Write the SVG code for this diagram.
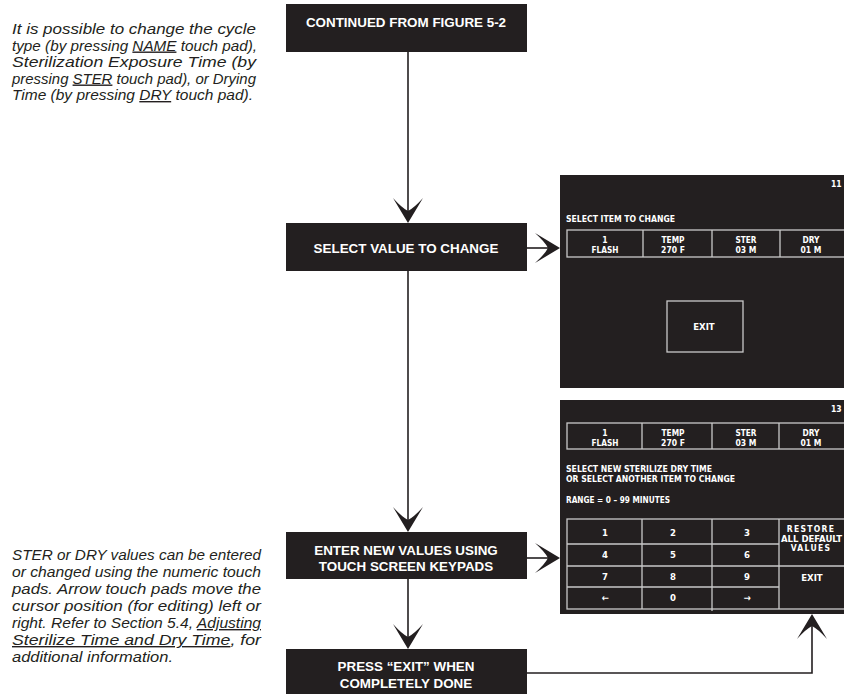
<svg xmlns="http://www.w3.org/2000/svg" width="844" height="694" viewBox="0 0 844 694">
<style>
  .box { fill:#231f20; }
  .bt { font-family:"Liberation Sans", Arial, sans-serif; font-weight:bold; font-size:13.4px; fill:#ffffff; text-anchor:middle; }
  .note { font-family:"Liberation Sans", Arial, sans-serif; font-style:italic; font-size:14px; fill:#231f20; }
  .u { text-decoration:underline; }
  .scr { fill:#231f20; }
  .grid { fill:none; stroke:#c9c9c9; stroke-width:1.3; }
  .st { font-family:"DejaVu Sans", "Liberation Sans", sans-serif; font-stretch:condensed; font-weight:bold; font-size:8.5px; fill:#ffffff; }
  .k { font-size:9.5px; }
  .c { text-anchor:middle; }
  .conn { fill:none; stroke:#231f20; stroke-width:1.6; }
  .ah { fill:#231f20; }
</style>
<defs>
  <path id="arrow" d="M0,0 L-15,-25 Q-6,-15 0,-12 Q6,-15 15,-25 Z"/>
</defs>
<rect width="844" height="694" fill="#ffffff"/>

<!-- notes -->
<g id="note-top">
  <text class="note" x="12" y="34" textLength="244" lengthAdjust="spacingAndGlyphs">It is possible to change the cycle</text>
  <text class="note" x="12" y="50.5" textLength="245" lengthAdjust="spacingAndGlyphs">type (by pressing <tspan class="u">NAME</tspan> touch pad),</text>
  <text class="note" x="12" y="67" textLength="244" lengthAdjust="spacingAndGlyphs">Sterilization  Exposure  Time  (by</text>
  <text class="note" x="12" y="83.5" textLength="244" lengthAdjust="spacingAndGlyphs">pressing <tspan class="u">STER</tspan> touch pad), or Drying</text>
  <text class="note" x="12" y="100" textLength="241" lengthAdjust="spacingAndGlyphs">Time (by pressing <tspan class="u">DRY</tspan> touch pad).</text>
</g>
<g id="note-bottom">
  <text class="note" x="12" y="560" textLength="249" lengthAdjust="spacingAndGlyphs">STER or DRY values can be entered</text>
  <text class="note" x="12" y="577" textLength="249" lengthAdjust="spacingAndGlyphs">or changed using the numeric touch</text>
  <text class="note" x="12" y="594" textLength="249" lengthAdjust="spacingAndGlyphs">pads.  Arrow  touch  pads  move  the</text>
  <text class="note" x="12" y="611" textLength="249" lengthAdjust="spacingAndGlyphs">cursor position (for editing) left or</text>
  <text class="note" x="12" y="628" textLength="249" lengthAdjust="spacingAndGlyphs">right. Refer to Section 5.4, <tspan class="u">Adjusting</tspan></text>
  <text class="note" x="12" y="645" textLength="249" lengthAdjust="spacingAndGlyphs"><tspan class="u">Sterilize  Time  and  Dry  Time</tspan>,  for</text>
  <text class="note" x="12" y="662" textLength="161" lengthAdjust="spacingAndGlyphs">additional information.</text>
</g>

<!-- connectors -->
<g id="connectors">
  <line class="conn" x1="408" y1="52" x2="408" y2="215"/>
  <use href="#arrow" class="ah" transform="translate(408,223)"/>
  <line class="conn" x1="527" y1="248" x2="552" y2="248"/>
  <use href="#arrow" class="ah" transform="translate(560,248) rotate(-90)"/>
  <line class="conn" x1="408" y1="271" x2="408" y2="524"/>
  <use href="#arrow" class="ah" transform="translate(408,532)"/>
  <line class="conn" x1="527" y1="558" x2="552" y2="558"/>
  <use href="#arrow" class="ah" transform="translate(560,558) rotate(-90)"/>
  <line class="conn" x1="408" y1="579" x2="408" y2="641"/>
  <use href="#arrow" class="ah" transform="translate(408,649)"/>
  <polyline class="conn" points="527,673 812,673 812,622"/>
  <use href="#arrow" class="ah" transform="translate(812,614) rotate(180)"/>
</g>

<!-- flow nodes -->
<g id="node-continued">
  <rect class="box" x="286" y="4" width="241" height="48"/>
  <text class="bt" x="406" y="27">CONTINUED FROM FIGURE 5-2</text>
</g>
<g id="node-select">
  <rect class="box" x="286" y="223" width="241" height="48"/>
  <text class="bt" x="406" y="252.5">SELECT VALUE TO CHANGE</text>
</g>
<g id="node-enter">
  <rect class="box" x="286" y="532" width="241" height="47"/>
  <text class="bt" x="406" y="554.5">ENTER NEW VALUES USING</text>
  <text class="bt" x="406" y="570.5">TOUCH SCREEN KEYPADS</text>
</g>
<g id="node-exit">
  <rect class="box" x="286" y="649" width="241" height="45"/>
  <text class="bt" x="406" y="671">PRESS “EXIT” WHEN</text>
  <text class="bt" x="406" y="687.5">COMPLETELY DONE</text>
</g>

<!-- screen 1 -->
<g id="screen-select">
  <rect class="scr" x="560" y="175" width="290" height="213"/>
  <text class="st" x="831" y="187">11</text>
  <text class="st" x="566" y="222" textLength="109" lengthAdjust="spacingAndGlyphs">SELECT ITEM TO CHANGE</text>
  <rect class="grid" x="567" y="230" width="290" height="27"/>
  <line class="grid" x1="643" y1="230" x2="643" y2="257"/>
  <line class="grid" x1="712" y1="230" x2="712" y2="257"/>
  <line class="grid" x1="780" y1="230" x2="780" y2="257"/>
  <text class="st c" x="605" y="243">1</text>
  <text class="st c" x="605" y="253" textLength="27" lengthAdjust="spacingAndGlyphs">FLASH</text>
  <text class="st c" x="673" y="243" textLength="23" lengthAdjust="spacingAndGlyphs">TEMP</text>
  <text class="st c" x="673" y="253">270 F</text>
  <text class="st c" x="746" y="243" textLength="21" lengthAdjust="spacingAndGlyphs">STER</text>
  <text class="st c" x="746" y="253">03 M</text>
  <text class="st c" x="811" y="243" textLength="17" lengthAdjust="spacingAndGlyphs">DRY</text>
  <text class="st c" x="811" y="253">01 M</text>
  <rect class="grid" x="667" y="301" width="76" height="51"/>
  <text class="st c k" x="704" y="330">EXIT</text>
</g>

<!-- screen 2 -->
<g id="screen-keypad">
  <rect class="scr" x="560" y="400" width="290" height="214"/>
  <text class="st" x="831" y="412">13</text>
  <rect class="grid" x="567" y="423" width="290" height="26"/>
  <line class="grid" x1="642" y1="423" x2="642" y2="449"/>
  <line class="grid" x1="712" y1="423" x2="712" y2="449"/>
  <line class="grid" x1="779" y1="423" x2="779" y2="449"/>
  <text class="st c" x="605" y="436">1</text>
  <text class="st c" x="605" y="445.5" textLength="27" lengthAdjust="spacingAndGlyphs">FLASH</text>
  <text class="st c" x="673" y="436" textLength="23" lengthAdjust="spacingAndGlyphs">TEMP</text>
  <text class="st c" x="673" y="445.5">270 F</text>
  <text class="st c" x="746" y="436" textLength="21" lengthAdjust="spacingAndGlyphs">STER</text>
  <text class="st c" x="746" y="445.5">03 M</text>
  <text class="st c" x="811" y="436" textLength="17" lengthAdjust="spacingAndGlyphs">DRY</text>
  <text class="st c" x="811" y="445.5">01 M</text>
  <text class="st" x="566" y="472" textLength="146" lengthAdjust="spacingAndGlyphs">SELECT NEW STERILIZE DRY TIME</text>
  <text class="st" x="566" y="482" textLength="169" lengthAdjust="spacingAndGlyphs">OR SELECT ANOTHER ITEM TO CHANGE</text>
  <text class="st" x="566" y="503" textLength="104" lengthAdjust="spacingAndGlyphs">RANGE = 0 – 99 MINUTES</text>
  <rect class="grid" x="567" y="519" width="290" height="90"/>
  <line class="grid" x1="567" y1="544" x2="779" y2="544"/>
  <line class="grid" x1="567" y1="566" x2="850" y2="566"/>
  <line class="grid" x1="567" y1="587" x2="779" y2="587"/>
  <line class="grid" x1="642" y1="519" x2="642" y2="609"/>
  <line class="grid" x1="712" y1="519" x2="712" y2="611"/>
  <line class="grid" x1="779" y1="519" x2="779" y2="609"/>
  <text class="st c k" x="605" y="536">1</text>
  <text class="st c k" x="673" y="536">2</text>
  <text class="st c k" x="747" y="536">3</text>
  <text class="st c k" x="605" y="558">4</text>
  <text class="st c k" x="673" y="558">5</text>
  <text class="st c k" x="747" y="558">6</text>
  <text class="st c k" x="605" y="580">7</text>
  <text class="st c k" x="673" y="580">8</text>
  <text class="st c k" x="747" y="580">9</text>
  <text class="st c k" x="605" y="601">←</text>
  <text class="st c k" x="673" y="601">0</text>
  <text class="st c k" x="747" y="601">→</text>
  <text class="st c" x="811" y="532" letter-spacing="1.3">RESTORE</text>
  <text class="st" x="781" y="542" textLength="61" lengthAdjust="spacingAndGlyphs">ALL  DEFAULT</text>
  <text class="st c" x="811" y="551" letter-spacing="1.3">VALUES</text>
  <text class="st c k" x="812" y="581">EXIT</text>
</g>
</svg>
